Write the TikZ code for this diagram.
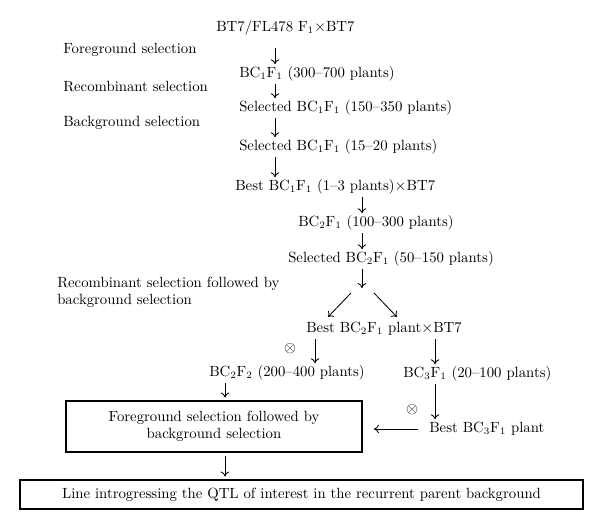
\documentclass[tikz,border=0pt]{standalone}
\usetikzlibrary{arrows.meta}
\begin{document}
\begin{tikzpicture}[x=0.025cm, y=-0.025cm,
  font=\fontsize{10.5}{12}\selectfont,
  txt/.style={anchor=west, inner sep=0pt, text height=7pt, text depth=2.5pt},
  lbl/.style={anchor=west, inner sep=0pt, align=left},
  box/.style={draw, line width=1pt, inner sep=0pt, align=center},
  flow/.style={-{To[length=3.5pt,width=6pt]}, line width=0.6pt, shorten <=2pt, shorten >=2pt}]
\useasboundingbox (0,0) rectangle (600,530);
\node[txt] (t0) at (216,28){BT7/FL478 F$_1\times$BT7};
\node[lbl] (l1) at (63,50){Foreground selection};
\node[txt] (t1) at (239,74){BC$_1$F$_1$ (300--700 plants)};
\node[lbl] (l2) at (63,87){Recombinant selection};
\node[txt] (t2) at (239,108){Selected BC$_1$F$_1$ (150--350 plants)};
\node[lbl] (l3) at (63,123){Background selection};
\node[txt] (t3) at (239,147){Selected BC$_1$F$_1$ (15--20 plants)};
\node[txt] (t4) at (235,187){Best BC$_1$F$_1$ (1--3 plants)$\times$BT7};
\node[txt] (t5) at (298,223){BC$_2$F$_1$ (100--300 plants)};
\node[txt] (t6) at (288,259){Selected BC$_2$F$_1$ (50--150 plants)};
\node[lbl] (l4) at (57,292){Recombinant selection followed by\\background selection};
\node[txt] (t7) at (306,329){Best BC$_2$F$_1$ plant$\times$BT7};
\node[inner sep=0pt] (x1) at (290,349){$\otimes$};
\node[txt] (t8) at (209,373){BC$_2$F$_2$ (200--400 plants)};
\node[txt] (t9) at (403,374){BC$_3$F$_1$ (20--100 plants)};
\node[box, minimum width=7.4cm, minimum height=1.275cm] (b1) at (214,426.5){Foreground selection followed by\\background selection};
\node[inner sep=0pt] (x2) at (412,410){$\otimes$};
\node[txt] (t10) at (429,429){Best BC$_3$F$_1$ plant};
\node[box, minimum width=14.075cm, minimum height=0.725cm] (b2) at (301.5,494.5){Line introgressing the QTL of interest in the recurrent parent background};
\coordinate (c1) at (275,0);
\coordinate (c2) at (362,0);
\coordinate (c3) at (315,0);
\coordinate (c4) at (435,0);
\coordinate (c5) at (225,0);
\coordinate (s0) at (362,288);
\coordinate (d1) at (351,293);
\coordinate (e1) at (328,317);
\coordinate (d2) at (374,293);
\coordinate (e2) at (397,317);
\draw[flow, shorten <=9pt](t0.south -| c1) -- (t1.north -| c1);
\draw[flow](t1.south -| c1) -- (t2.north -| c1);
\draw[flow](t2.south -| c1) -- (t3.north -| c1);
\draw[flow](t3.south -| c1) -- (t4.north -| c1);
\draw[flow](t4.south -| c2) -- (t5.north -| c2);
\draw[flow](t5.south -| c2) -- (t6.north -| c2);
\draw[flow, shorten >=0pt](t6.south -| c2) -- (s0);
\draw[flow, shorten <=0pt, shorten >=0pt](d1) -- (e1);
\draw[flow, shorten <=0pt, shorten >=0pt](d2) -- (e2);
\draw[flow](t7.south -| c3) -- (t8.north -| c3);
\draw[flow](t7.south -| c4) -- (t9.north -| c4);
\draw[flow](t9.south -| c4) -- (t10.north -| c4);
\draw[flow](t8.south -| c5) -- (b1.north -| c5);
\draw[flow, shorten <=8pt, shorten >=8pt](t10.west) -- (t10.west -| b1.east);
\draw[flow](b1.south -| c5) -- (b2.north -| c5);
\end{tikzpicture}
\end{document}
